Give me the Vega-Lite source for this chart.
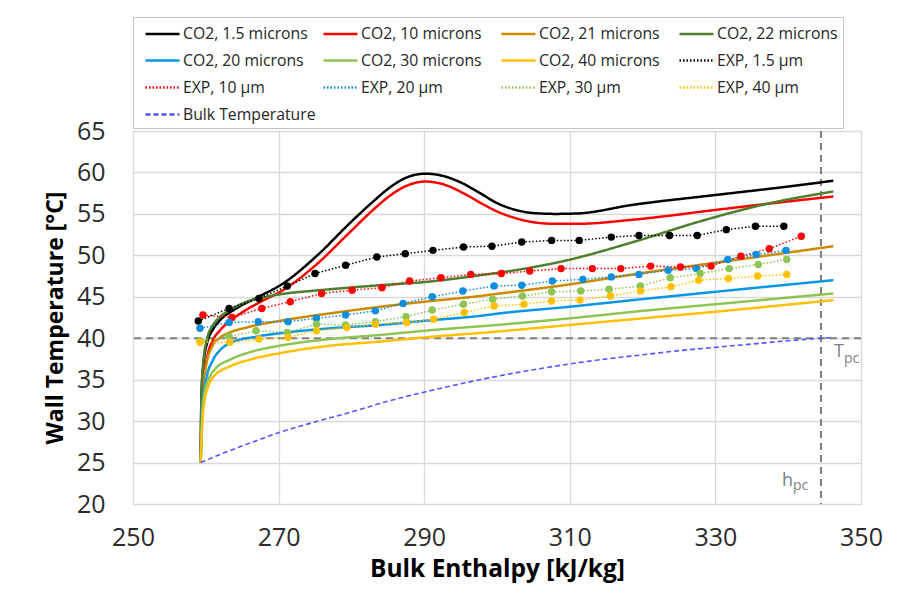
{
  "$schema": "https://vega.github.io/schema/vega-lite/v6.json",
  "autosize": "none",
  "width": 728,
  "height": 373,
  "padding": {"left": 133, "top": 131, "right": 40, "bottom": 92},
  "background": "white",
  "config": {
    "view": {"stroke": "#c4c4c4", "strokeWidth": 1},
    "axis": {"grid": true, "gridColor": "#d9d9d9", "gridWidth": 1.3, "domain": false, "ticks": false, "labelFont": "Open Sans", "labelFontSize": 25, "labelColor": "#2b2b2b", "labelFlush": false, "labelOverlap": false, "titleFont": "Open Sans", "titleFontWeight": "bold", "titleColor": "#000000"}
  },
  "datasets": {
    "co2": [
      {"s":"CO2, 1.5 microns","h":259.3,"T":25},{"s":"CO2, 1.5 microns","h":259.4,"T":33},{"s":"CO2, 1.5 microns","h":259.7,"T":37},{"s":"CO2, 1.5 microns","h":260.2,"T":39.5},{"s":"CO2, 1.5 microns","h":261,"T":41.1},{"s":"CO2, 1.5 microns","h":262,"T":42.2},{"s":"CO2, 1.5 microns","h":264,"T":43.5},{"s":"CO2, 1.5 microns","h":267,"T":44.9},{"s":"CO2, 1.5 microns","h":270.6,"T":46.6},{"s":"CO2, 1.5 microns","h":275.2,"T":49.9},{"s":"CO2, 1.5 microns","h":279.8,"T":53.9},{"s":"CO2, 1.5 microns","h":283,"T":56.5},{"s":"CO2, 1.5 microns","h":285.3,"T":58.2},{"s":"CO2, 1.5 microns","h":287.6,"T":59.4},{"s":"CO2, 1.5 microns","h":290.2,"T":59.85},{"s":"CO2, 1.5 microns","h":292.5,"T":59.6},{"s":"CO2, 1.5 microns","h":295,"T":58.8},{"s":"CO2, 1.5 microns","h":297.5,"T":57.6},{"s":"CO2, 1.5 microns","h":300,"T":56.3},{"s":"CO2, 1.5 microns","h":302.5,"T":55.5},{"s":"CO2, 1.5 microns","h":305,"T":55.1},{"s":"CO2, 1.5 microns","h":308,"T":55.0},{"s":"CO2, 1.5 microns","h":311,"T":55.05},{"s":"CO2, 1.5 microns","h":318.7,"T":56.1},{"s":"CO2, 1.5 microns","h":330.2,"T":57.3},{"s":"CO2, 1.5 microns","h":340,"T":58.3},{"s":"CO2, 1.5 microns","h":346.2,"T":59.0},
      {"s":"CO2, 10 microns","h":259.3,"T":25},{"s":"CO2, 10 microns","h":259.4,"T":31},{"s":"CO2, 10 microns","h":259.7,"T":35},{"s":"CO2, 10 microns","h":260.2,"T":37.8},{"s":"CO2, 10 microns","h":261,"T":39.8},{"s":"CO2, 10 microns","h":262,"T":41},{"s":"CO2, 10 microns","h":263.5,"T":42.2},{"s":"CO2, 10 microns","h":265.5,"T":43.4},{"s":"CO2, 10 microns","h":268,"T":44.6},{"s":"CO2, 10 microns","h":270.6,"T":45.8},{"s":"CO2, 10 microns","h":275.2,"T":48.9},{"s":"CO2, 10 microns","h":279.8,"T":52.8},{"s":"CO2, 10 microns","h":283,"T":55.5},{"s":"CO2, 10 microns","h":285.3,"T":57.2},{"s":"CO2, 10 microns","h":287.6,"T":58.4},{"s":"CO2, 10 microns","h":290.2,"T":58.9},{"s":"CO2, 10 microns","h":292.5,"T":58.6},{"s":"CO2, 10 microns","h":295.8,"T":57.3},{"s":"CO2, 10 microns","h":298,"T":56.2},{"s":"CO2, 10 microns","h":300,"T":55.3},{"s":"CO2, 10 microns","h":302.5,"T":54.5},{"s":"CO2, 10 microns","h":305,"T":54.0},{"s":"CO2, 10 microns","h":308,"T":53.8},{"s":"CO2, 10 microns","h":311,"T":53.8},{"s":"CO2, 10 microns","h":318.7,"T":54.3},{"s":"CO2, 10 microns","h":330.2,"T":55.5},{"s":"CO2, 10 microns","h":340,"T":56.5},{"s":"CO2, 10 microns","h":346.2,"T":57.1},
      {"s":"CO2, 21 microns","h":259.3,"T":25},{"s":"CO2, 21 microns","h":259.5,"T":33},{"s":"CO2, 21 microns","h":260,"T":36.5},{"s":"CO2, 21 microns","h":261,"T":39.2},{"s":"CO2, 21 microns","h":262,"T":40.1},{"s":"CO2, 21 microns","h":263.3,"T":40.7},{"s":"CO2, 21 microns","h":265.6,"T":41.3},{"s":"CO2, 21 microns","h":270.2,"T":42.1},{"s":"CO2, 21 microns","h":277.1,"T":43.0},{"s":"CO2, 21 microns","h":284,"T":43.8},{"s":"CO2, 21 microns","h":290,"T":44.4},{"s":"CO2, 21 microns","h":297.7,"T":45.1},{"s":"CO2, 21 microns","h":300.4,"T":45.4},{"s":"CO2, 21 microns","h":310,"T":46.5},{"s":"CO2, 21 microns","h":318.7,"T":47.7},{"s":"CO2, 21 microns","h":332.4,"T":49.4},{"s":"CO2, 21 microns","h":346.2,"T":51.1},
      {"s":"CO2, 22 microns","h":259.3,"T":25},{"s":"CO2, 22 microns","h":259.4,"T":33},{"s":"CO2, 22 microns","h":259.7,"T":37.5},{"s":"CO2, 22 microns","h":260.2,"T":40},{"s":"CO2, 22 microns","h":261,"T":41.6},{"s":"CO2, 22 microns","h":262,"T":42.6},{"s":"CO2, 22 microns","h":263.5,"T":43.5},{"s":"CO2, 22 microns","h":265.6,"T":44.4},{"s":"CO2, 22 microns","h":268.3,"T":45.0},{"s":"CO2, 22 microns","h":270.2,"T":45.3},{"s":"CO2, 22 microns","h":275.7,"T":45.8},{"s":"CO2, 22 microns","h":284,"T":46.4},{"s":"CO2, 22 microns","h":290.3,"T":46.8},{"s":"CO2, 22 microns","h":297.7,"T":47.6},{"s":"CO2, 22 microns","h":304.5,"T":48.5},{"s":"CO2, 22 microns","h":309.6,"T":49.4},{"s":"CO2, 22 microns","h":318.7,"T":51.6},{"s":"CO2, 22 microns","h":327.9,"T":54.1},{"s":"CO2, 22 microns","h":337,"T":56.2},{"s":"CO2, 22 microns","h":346.2,"T":57.7},
      {"s":"CO2, 20 microns","h":259.3,"T":25},{"s":"CO2, 20 microns","h":259.5,"T":31.5},{"s":"CO2, 20 microns","h":260,"T":34.8},{"s":"CO2, 20 microns","h":261,"T":37.4},{"s":"CO2, 20 microns","h":262,"T":38.6},{"s":"CO2, 20 microns","h":263.3,"T":39.4},{"s":"CO2, 20 microns","h":267,"T":40.2},{"s":"CO2, 20 microns","h":270.2,"T":40.6},{"s":"CO2, 20 microns","h":277.1,"T":41.2},{"s":"CO2, 20 microns","h":284,"T":41.6},{"s":"CO2, 20 microns","h":290,"T":42.1},{"s":"CO2, 20 microns","h":297.7,"T":42.7},{"s":"CO2, 20 microns","h":300.4,"T":43.0},{"s":"CO2, 20 microns","h":310,"T":43.8},{"s":"CO2, 20 microns","h":318.7,"T":44.6},{"s":"CO2, 20 microns","h":330,"T":45.6},{"s":"CO2, 20 microns","h":346.2,"T":47.0},
      {"s":"CO2, 30 microns","h":259.3,"T":25},{"s":"CO2, 30 microns","h":259.5,"T":30.5},{"s":"CO2, 30 microns","h":259.8,"T":33.3},{"s":"CO2, 30 microns","h":260.4,"T":35.1},{"s":"CO2, 30 microns","h":261.3,"T":36.3},{"s":"CO2, 30 microns","h":263.3,"T":37.4},{"s":"CO2, 30 microns","h":266,"T":38.3},{"s":"CO2, 30 microns","h":270.2,"T":39.1},{"s":"CO2, 30 microns","h":277.1,"T":39.9},{"s":"CO2, 30 microns","h":284,"T":40.4},{"s":"CO2, 30 microns","h":290,"T":40.9},{"s":"CO2, 30 microns","h":300,"T":41.6},{"s":"CO2, 30 microns","h":310,"T":42.4},{"s":"CO2, 30 microns","h":320,"T":43.3},{"s":"CO2, 30 microns","h":330,"T":44.1},{"s":"CO2, 30 microns","h":346.2,"T":45.4},
      {"s":"CO2, 40 microns","h":259.3,"T":25},{"s":"CO2, 40 microns","h":259.5,"T":29.5},{"s":"CO2, 40 microns","h":259.8,"T":32.3},{"s":"CO2, 40 microns","h":260.3,"T":34.1},{"s":"CO2, 40 microns","h":261,"T":35.3},{"s":"CO2, 40 microns","h":263.3,"T":36.6},{"s":"CO2, 40 microns","h":266,"T":37.4},{"s":"CO2, 40 microns","h":270.2,"T":38.2},{"s":"CO2, 40 microns","h":277.1,"T":39.1},{"s":"CO2, 40 microns","h":284,"T":39.6},{"s":"CO2, 40 microns","h":290,"T":40.1},{"s":"CO2, 40 microns","h":300,"T":40.8},{"s":"CO2, 40 microns","h":310,"T":41.6},{"s":"CO2, 40 microns","h":320,"T":42.4},{"s":"CO2, 40 microns","h":330,"T":43.2},{"s":"CO2, 40 microns","h":346.2,"T":44.6}
    ],
    "exp": [
      {"s":"EXP, 1.5 µm","h":258.97,"T":42.07},{"s":"EXP, 1.5 µm","h":263.2,"T":43.6},{"s":"EXP, 1.5 µm","h":267.3,"T":44.8},{"s":"EXP, 1.5 µm","h":271.2,"T":46.3},{"s":"EXP, 1.5 µm","h":275.0,"T":47.8},{"s":"EXP, 1.5 µm","h":279.2,"T":48.8},{"s":"EXP, 1.5 µm","h":283.5,"T":49.8},{"s":"EXP, 1.5 µm","h":287.4,"T":50.2},{"s":"EXP, 1.5 µm","h":291.2,"T":50.6},{"s":"EXP, 1.5 µm","h":295.4,"T":51.0},{"s":"EXP, 1.5 µm","h":299.3,"T":51.1},{"s":"EXP, 1.5 µm","h":303.4,"T":51.6},{"s":"EXP, 1.5 µm","h":307.5,"T":51.8},{"s":"EXP, 1.5 µm","h":311.3,"T":51.8},{"s":"EXP, 1.5 µm","h":315.7,"T":52.2},{"s":"EXP, 1.5 µm","h":319.5,"T":52.4},{"s":"EXP, 1.5 µm","h":323.7,"T":52.4},{"s":"EXP, 1.5 µm","h":327.5,"T":52.4},{"s":"EXP, 1.5 µm","h":331.5,"T":53.1},{"s":"EXP, 1.5 µm","h":335.5,"T":53.5},{"s":"EXP, 1.5 µm","h":339.4,"T":53.5},
      {"s":"EXP, 10 µm","h":259.6,"T":42.8},{"s":"EXP, 10 µm","h":263.6,"T":42.5},{"s":"EXP, 10 µm","h":267.7,"T":43.6},{"s":"EXP, 10 µm","h":271.6,"T":44.4},{"s":"EXP, 10 µm","h":275.9,"T":45.4},{"s":"EXP, 10 µm","h":280.1,"T":45.8},{"s":"EXP, 10 µm","h":284.2,"T":46.1},{"s":"EXP, 10 µm","h":288.0,"T":46.9},{"s":"EXP, 10 µm","h":292.3,"T":47.3},{"s":"EXP, 10 µm","h":296.4,"T":47.7},{"s":"EXP, 10 µm","h":300.6,"T":47.8},{"s":"EXP, 10 µm","h":304.5,"T":48.1},{"s":"EXP, 10 µm","h":308.8,"T":48.4},{"s":"EXP, 10 µm","h":313.1,"T":48.4},{"s":"EXP, 10 µm","h":317.0,"T":48.4},{"s":"EXP, 10 µm","h":321.1,"T":48.7},{"s":"EXP, 10 µm","h":325.2,"T":48.6},{"s":"EXP, 10 µm","h":329.4,"T":48.7},{"s":"EXP, 10 µm","h":333.5,"T":49.9},{"s":"EXP, 10 µm","h":337.4,"T":50.8},{"s":"EXP, 10 µm","h":341.8,"T":52.3},
      {"s":"EXP, 20 µm","h":259.2,"T":41.2},{"s":"EXP, 20 µm","h":263.2,"T":41.9},{"s":"EXP, 20 µm","h":267.2,"T":42.0},{"s":"EXP, 20 µm","h":271.3,"T":42.0},{"s":"EXP, 20 µm","h":275.2,"T":42.4},{"s":"EXP, 20 µm","h":279.2,"T":42.8},{"s":"EXP, 20 µm","h":283.3,"T":43.3},{"s":"EXP, 20 µm","h":287.1,"T":44.2},{"s":"EXP, 20 µm","h":291.1,"T":45.0},{"s":"EXP, 20 µm","h":295.3,"T":45.7},{"s":"EXP, 20 µm","h":299.6,"T":46.3},{"s":"EXP, 20 µm","h":303.4,"T":46.4},{"s":"EXP, 20 µm","h":307.6,"T":46.9},{"s":"EXP, 20 µm","h":311.8,"T":47.1},{"s":"EXP, 20 µm","h":315.7,"T":47.4},{"s":"EXP, 20 µm","h":319.5,"T":47.7},{"s":"EXP, 20 µm","h":323.5,"T":48.2},{"s":"EXP, 20 µm","h":327.4,"T":48.4},{"s":"EXP, 20 µm","h":331.7,"T":49.5},{"s":"EXP, 20 µm","h":335.6,"T":50.1},{"s":"EXP, 20 µm","h":339.7,"T":50.6},
      {"s":"EXP, 30 µm","h":259.2,"T":39.7},{"s":"EXP, 30 µm","h":263.2,"T":40.2},{"s":"EXP, 30 µm","h":266.9,"T":40.9},{"s":"EXP, 30 µm","h":271.2,"T":40.7},{"s":"EXP, 30 µm","h":275.2,"T":41.7},{"s":"EXP, 30 µm","h":279.2,"T":41.6},{"s":"EXP, 30 µm","h":283.3,"T":42.0},{"s":"EXP, 30 µm","h":287.5,"T":42.6},{"s":"EXP, 30 µm","h":291.1,"T":43.4},{"s":"EXP, 30 µm","h":295.4,"T":44.1},{"s":"EXP, 30 µm","h":299.4,"T":44.7},{"s":"EXP, 30 µm","h":303.5,"T":45.1},{"s":"EXP, 30 µm","h":307.5,"T":45.6},{"s":"EXP, 30 µm","h":311.5,"T":45.7},{"s":"EXP, 30 µm","h":315.4,"T":45.9},{"s":"EXP, 30 µm","h":319.7,"T":46.3},{"s":"EXP, 30 µm","h":323.8,"T":47.3},{"s":"EXP, 30 µm","h":327.9,"T":47.8},{"s":"EXP, 30 µm","h":331.9,"T":48.4},{"s":"EXP, 30 µm","h":335.9,"T":48.9},{"s":"EXP, 30 µm","h":339.8,"T":49.5},
      {"s":"EXP, 40 µm","h":259.2,"T":39.5},{"s":"EXP, 40 µm","h":263.3,"T":39.5},{"s":"EXP, 40 µm","h":267.3,"T":39.9},{"s":"EXP, 40 µm","h":271.3,"T":40.1},{"s":"EXP, 40 µm","h":275.2,"T":40.9},{"s":"EXP, 40 µm","h":279.4,"T":41.3},{"s":"EXP, 40 µm","h":283.3,"T":41.7},{"s":"EXP, 40 µm","h":287.6,"T":41.9},{"s":"EXP, 40 µm","h":291.3,"T":42.3},{"s":"EXP, 40 µm","h":295.5,"T":43.1},{"s":"EXP, 40 µm","h":299.6,"T":43.9},{"s":"EXP, 40 µm","h":303.7,"T":44.1},{"s":"EXP, 40 µm","h":307.5,"T":44.5},{"s":"EXP, 40 µm","h":311.4,"T":44.6},{"s":"EXP, 40 µm","h":315.6,"T":45.1},{"s":"EXP, 40 µm","h":319.7,"T":45.7},{"s":"EXP, 40 µm","h":323.9,"T":46.2},{"s":"EXP, 40 µm","h":327.7,"T":47.0},{"s":"EXP, 40 µm","h":331.8,"T":47.2},{"s":"EXP, 40 µm","h":335.8,"T":47.5},{"s":"EXP, 40 µm","h":339.8,"T":47.7}
    ],
    "bulk": [
      {"s":"Bulk Temperature","h":259.3,"T":25},{"s":"Bulk Temperature","h":262,"T":26.0},{"s":"Bulk Temperature","h":265,"T":27.0},{"s":"Bulk Temperature","h":270,"T":28.6},{"s":"Bulk Temperature","h":275,"T":29.9},{"s":"Bulk Temperature","h":280,"T":31.1},{"s":"Bulk Temperature","h":285,"T":32.4},{"s":"Bulk Temperature","h":290,"T":33.5},{"s":"Bulk Temperature","h":295,"T":34.5},{"s":"Bulk Temperature","h":300,"T":35.4},{"s":"Bulk Temperature","h":305,"T":36.2},{"s":"Bulk Temperature","h":310,"T":36.9},{"s":"Bulk Temperature","h":315,"T":37.5},{"s":"Bulk Temperature","h":320,"T":38.0},{"s":"Bulk Temperature","h":325,"T":38.5},{"s":"Bulk Temperature","h":330,"T":38.9},{"s":"Bulk Temperature","h":335,"T":39.3},{"s":"Bulk Temperature","h":340,"T":39.7},{"s":"Bulk Temperature","h":346.2,"T":40.1}
    ],
    "vref": [{"h": 344.5}],
    "href": [{"T": 40}],
    "tpc": [{"h": 344.5, "T": 40}],
    "hpc": [{"h": 344.5, "T": 22}]
  },
  "layer": [
    {
      "data": {"name": "vref"},
      "mark": {"type": "rule", "color": "#7f7f7f", "strokeWidth": 2, "strokeDash": [7, 5]},
      "encoding": {"x": {"field": "h", "type": "quantitative", "scale": {"domain": [250, 350], "nice": false, "zero": false}, "axis": {"values": [250, 270, 290, 310, 330, 350], "title": "Bulk Enthalpy [kJ/kg]", "titleFontSize": 24.5, "labelPadding": 21, "titlePadding": 7}}}
    },
    {
      "data": {"name": "href"},
      "mark": {"type": "rule", "color": "#7f7f7f", "strokeWidth": 2, "strokeDash": [7, 5]},
      "encoding": {"y": {"field": "T", "type": "quantitative", "scale": {"domain": [20, 65], "nice": false, "zero": false}, "axis": {"values": [20, 25, 30, 35, 40, 45, 50, 55, 60, 65], "title": "Wall Temperature [°C]", "titleFontSize": 23, "labelPadding": 28, "titlePadding": 9}}}
    },
    {
      "data": {"name": "co2"},
      "mark": {"type": "line", "strokeWidth": 2.5, "interpolate": "monotone"},
      "encoding": {
        "x": {"field": "h", "type": "quantitative"},
        "y": {"field": "T", "type": "quantitative"},
        "color": {
          "field": "s", "type": "nominal",
          "scale": {
            "domain": ["CO2, 1.5 microns", "CO2, 10 microns", "CO2, 21 microns", "CO2, 22 microns", "CO2, 20 microns", "CO2, 30 microns", "CO2, 40 microns", "EXP, 1.5 µm", "EXP, 10 µm", "EXP, 20 µm", "EXP, 30 µm", "EXP, 40 µm", "Bulk Temperature"],
            "range": ["#000000", "#ff0000", "#cc8a00", "#4f7f2d", "#0a96e6", "#8dc454", "#ffc000", "#000000", "#ff0000", "#0a8fe0", "#8dc454", "#ffc000", "#5555ff"]
          },
          "legend": {
            "orient": "top", "columns": 4, "title": null, "offset": 3, "padding": 5,
            "strokeColor": "#c4c4c4", "fillColor": "#ffffff",
            "labelFont": "Open Sans", "labelFontSize": 15.75, "labelColor": "#262626", "labelLimit": 300,
            "symbolType": "M-0.4,0H3.0", "symbolSize": 400, "symbolStrokeWidth": 2.5, "labelOffset": 22, "rowPadding": 7, "columnPadding": -2.5, "gridAlign": "all", "symbolLimit": 20
          }
        },
        "strokeDash": {
          "field": "s", "type": "nominal",
          "scale": {
            "domain": ["CO2, 1.5 microns", "CO2, 10 microns", "CO2, 21 microns", "CO2, 22 microns", "CO2, 20 microns", "CO2, 30 microns", "CO2, 40 microns", "EXP, 1.5 µm", "EXP, 10 µm", "EXP, 20 µm", "EXP, 30 µm", "EXP, 40 µm", "Bulk Temperature"],
            "range": [[1, 0], [1, 0], [1, 0], [1, 0], [1, 0], [1, 0], [1, 0], [1.5, 2], [1.5, 2], [1.5, 2], [1.5, 2], [1.5, 2], [5, 3]]
          },
          "legend": {"title": null}
        }
      }
    },
    {
      "data": {"name": "exp"},
      "mark": {"type": "line", "strokeWidth": 1.5},
      "encoding": {
        "x": {"field": "h", "type": "quantitative"},
        "y": {"field": "T", "type": "quantitative"},
        "color": {"field": "s", "type": "nominal", "legend": null},
        "strokeDash": {"field": "s", "type": "nominal", "legend": null}
      }
    },
    {
      "data": {"name": "exp"},
      "mark": {"type": "point", "filled": true, "size": 55, "opacity": 1},
      "encoding": {
        "x": {"field": "h", "type": "quantitative"},
        "y": {"field": "T", "type": "quantitative"},
        "color": {"field": "s", "type": "nominal", "legend": null}
      }
    },
    {
      "data": {"name": "bulk"},
      "mark": {"type": "line", "strokeWidth": 1.6, "interpolate": "monotone"},
      "encoding": {
        "x": {"field": "h", "type": "quantitative"},
        "y": {"field": "T", "type": "quantitative"},
        "color": {"field": "s", "type": "nominal", "legend": null},
        "strokeDash": {"field": "s", "type": "nominal", "legend": null}
      }
    },
    {
      "data": {"name": "tpc"},
      "mark": {"type": "text", "text": "T", "font": "Open Sans", "fontSize": 18, "color": "#7f7f7f", "align": "left", "baseline": "alphabetic", "dx": 13, "dy": 19},
      "encoding": {"x": {"field": "h", "type": "quantitative"}, "y": {"field": "T", "type": "quantitative"}}
    },
    {
      "data": {"name": "tpc"},
      "mark": {"type": "text", "text": "pc", "font": "Open Sans", "fontSize": 14, "color": "#7f7f7f", "align": "left", "baseline": "alphabetic", "dx": 23, "dy": 25},
      "encoding": {"x": {"field": "h", "type": "quantitative"}, "y": {"field": "T", "type": "quantitative"}}
    },
    {
      "data": {"name": "hpc"},
      "mark": {"type": "text", "text": "h", "font": "Open Sans", "fontSize": 18, "color": "#7f7f7f", "align": "left", "baseline": "alphabetic", "dx": -39, "dy": -1},
      "encoding": {"x": {"field": "h", "type": "quantitative"}, "y": {"field": "T", "type": "quantitative"}}
    },
    {
      "data": {"name": "hpc"},
      "mark": {"type": "text", "text": "pc", "font": "Open Sans", "fontSize": 14, "color": "#7f7f7f", "align": "left", "baseline": "alphabetic", "dx": -28, "dy": 3},
      "encoding": {"x": {"field": "h", "type": "quantitative"}, "y": {"field": "T", "type": "quantitative"}}
    }
  ]
}
